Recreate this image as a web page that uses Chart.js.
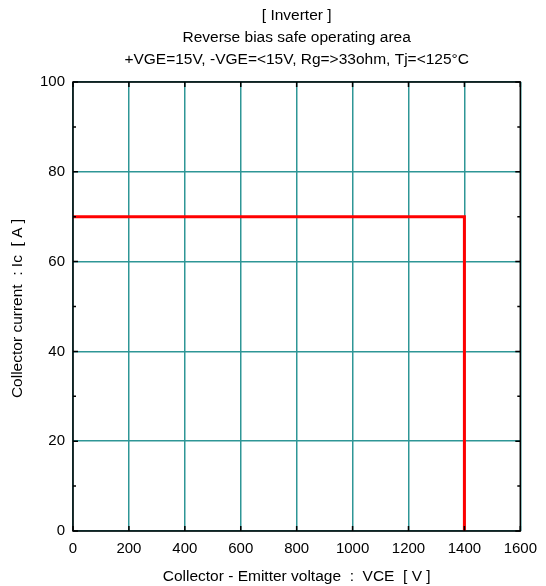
<!DOCTYPE html>
<html>
<head>
<meta charset="utf-8">
<script src="https://cdn.jsdelivr.net/npm/chart.js@4.4.0/dist/chart.umd.min.js"></script>
<style>
  body { margin: 0; background: #fff; }
  #rbsoa { display: block; }
</style>
</head>
<body>
<canvas id="rbsoa" width="546" height="586"></canvas>
<script>
// RBSOA limit curve
var vce = [0, 1400, 1400];
var ic = [70, 70, 0];

var titleLines = ["[ Inverter ]", "Reverse bias safe operating area", "+VGE=15V, -VGE=<15V, Rg=>33ohm, Tj=<125\u00b0C"];
var xTitle = "Collector - Emitter voltage  :  VCE  [ V ]";
var yTitle = "Collector current  : Ic  [ A ]";
var xTicks = [0, 200, 400, 600, 800, 1000, 1200, 1400, 1600];
var yTicks = [0, 20, 40, 60, 80, 100];
var yMinor = [10, 30, 50, 70, 90];

var FONT = "'Liberation Sans', Arial, sans-serif";
var GRID = "#2e9696";

var framePlugin = {
  id: "frame",
  afterDraw: function(chart) {
    var ctx = chart.ctx, a = chart.chartArea;
    var xs = chart.scales.x, ys = chart.scales.y;
    ctx.save();
    ctx.strokeStyle = "#000";
    ctx.lineWidth = 1.5;
    ctx.strokeRect(a.left, a.top, a.right - a.left, a.bottom - a.top);
    ctx.beginPath();
    xTicks.forEach(function(v) {
      var px = xs.getPixelForValue(v);
      ctx.moveTo(px, a.bottom); ctx.lineTo(px, a.bottom - 5);
      ctx.moveTo(px, a.top); ctx.lineTo(px, a.top + 5);
    });
    yTicks.forEach(function(v) {
      var py = ys.getPixelForValue(v);
      ctx.moveTo(a.left, py); ctx.lineTo(a.left + 5, py);
      ctx.moveTo(a.right, py); ctx.lineTo(a.right - 5, py);
    });
    yMinor.forEach(function(v) {
      var py = ys.getPixelForValue(v);
      ctx.moveTo(a.left, py); ctx.lineTo(a.left + 3, py);
      ctx.moveTo(a.right, py); ctx.lineTo(a.right - 3, py);
    });
    ctx.stroke();

    var cx = (a.left + a.right) / 2;
    ctx.fillStyle = "#000";
    ctx.font = "15.5px " + FONT;
    ctx.textAlign = "center";
    ctx.textBaseline = "middle";
    ctx.fillText(titleLines[0], cx, 16);
    ctx.fillText(titleLines[1], cx, 38);
    ctx.fillText(titleLines[2], cx, 60);
    ctx.fillText(xTitle, cx, 577);
    ctx.translate(18, (a.top + a.bottom) / 2 + 2);
    ctx.rotate(-Math.PI / 2);
    ctx.fillText(yTitle, 0, 0);
    ctx.restore();
  }
};

new Chart(document.getElementById("rbsoa"), {
  type: "scatter",
  data: {
    datasets: [{
      data: vce.map(function(v, i) { return {x: v, y: ic[i]}; }),
      showLine: true,
      borderColor: "#ff0000",
      borderWidth: 3,
      pointRadius: 0,
      fill: false
    }]
  },
  options: {
    responsive: false,
    animation: false,
    layout: {padding: {top: 82, right: 25, left: 0, bottom: 0}},
    plugins: {legend: {display: false}, tooltip: {enabled: false}},
    scales: {
      x: {
        min: 0, max: 1600,
        afterBuildTicks: function(s) { s.ticks = xTicks.map(function(v) { return {value: v}; }); },
        afterFit: function(s) { s.height = 55; },
        grid: {color: GRID, lineWidth: 1.5, drawTicks: false},
        border: {display: false},
        ticks: {color: "#000", padding: 9, maxRotation: 0, font: {family: FONT, size: 15},
          callback: function(v) { return String(v); }}
      },
      y: {
        min: 0, max: 100,
        afterBuildTicks: function(s) { s.ticks = yTicks.map(function(v) { return {value: v}; }); },
        afterFit: function(s) { s.width = 73; },
        grid: {color: GRID, lineWidth: 1.5, drawTicks: false},
        border: {display: false},
        ticks: {color: "#000", padding: 8, font: {family: FONT, size: 15},
          callback: function(v) { return String(v); }}
      }
    }
  },
  plugins: [framePlugin]
});
</script>
</body>
</html>
